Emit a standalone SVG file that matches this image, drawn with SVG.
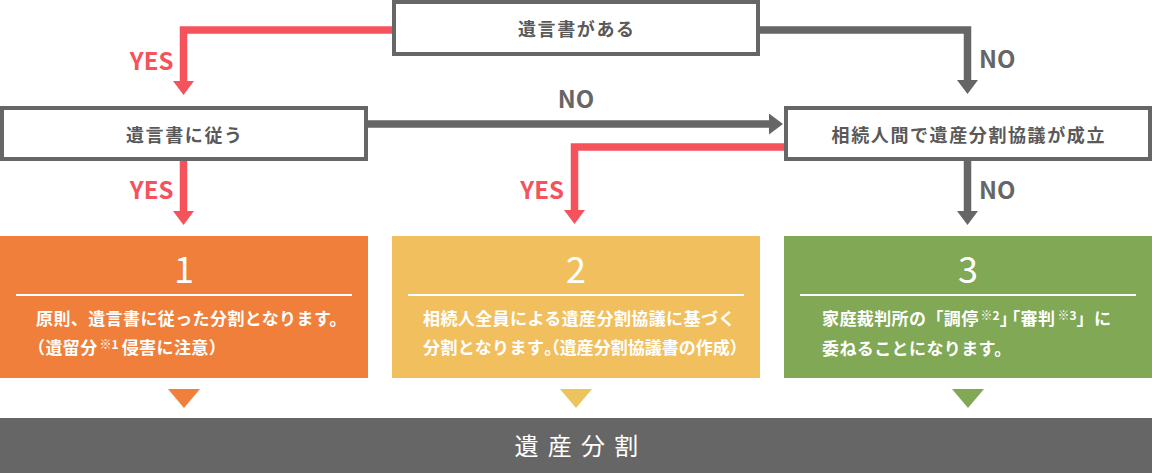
<svg xmlns="http://www.w3.org/2000/svg" width="1152" height="473" viewBox="0 0 1152 473">
<style>
  text { font-family: "Noto Sans CJK JP", "Noto Sans", sans-serif; }
  .node rect.frame { fill: #ffffff; stroke: #666666; stroke-width: 4; }
  .ntext { font-size: 18px; font-weight: 700; fill: #595959; letter-spacing: 1.6px; }
  .lbl { font-size: 24px; font-weight: 700; }
  .yes { fill: #F5525B; }
  .no { fill: #666666; }
  .red { fill: none; stroke: #F5525B; stroke-width: 7.5; stroke-linejoin: miter; }
  .gray { fill: none; stroke: #666666; stroke-width: 7.5; stroke-linejoin: miter; }
  .num { font-size: 36px; font-weight: 400; fill: #ffffff; }
  .rule { stroke: #ffffff; stroke-width: 2; }
  .body { font-size: 17px; font-weight: 700; fill: #ffffff; letter-spacing: 0.4px; }
  .sup { font-size: 12px; letter-spacing: 0; }
  .tight { letter-spacing: -5px; }
  .final { font-size: 24px; font-weight: 400; fill: #ffffff; letter-spacing: 9.3px; }
</style>
<defs>
  <marker id="ahRed" viewBox="0 0 14 21" refX="0" refY="10.5" markerWidth="14" markerHeight="21" markerUnits="userSpaceOnUse" orient="auto">
    <path d="M0,0 L14,10.5 L0,21 Z" fill="#F5525B"/>
  </marker>
  <marker id="ahGray" viewBox="0 0 14 21" refX="0" refY="10.5" markerWidth="14" markerHeight="21" markerUnits="userSpaceOnUse" orient="auto">
    <path d="M0,0 L14,10.5 L0,21 Z" fill="#666666"/>
  </marker>
</defs>

<g id="connectors">
  <path class="red" d="M392,30 H183.5 V81" marker-end="url(#ahRed)"/>
  <path class="gray" d="M760,30 H967.5 V80" marker-end="url(#ahGray)"/>
  <path class="gray" d="M368,124 H769" marker-end="url(#ahGray)"/>
  <path class="red" d="M784,147 H574.5 V210" marker-end="url(#ahRed)"/>
  <path class="red" d="M183.5,161 V211" marker-end="url(#ahRed)"/>
  <path class="gray" d="M967.5,161 V211" marker-end="url(#ahGray)"/>
  <text class="lbl yes" x="173.5" y="70" text-anchor="end">YES</text>
  <text class="lbl no" x="979" y="68">NO</text>
  <text class="lbl no" x="576" y="108" text-anchor="middle">NO</text>
  <text class="lbl yes" x="564" y="199" text-anchor="end">YES</text>
  <text class="lbl yes" x="173.5" y="199" text-anchor="end">YES</text>
  <text class="lbl no" x="979" y="199">NO</text>
</g>

<g id="node-will" class="node">
  <rect class="frame" x="394" y="2" width="364" height="52"/>
  <text class="ntext" x="576.8" y="35.5" text-anchor="middle">遺言書がある</text>
</g>

<g id="node-follow" class="node">
  <rect class="frame" x="2" y="108" width="364" height="51"/>
  <text class="ntext" x="184.8" y="141.5" text-anchor="middle">遺言書に従う</text>
</g>

<g id="node-agree" class="node">
  <rect class="frame" x="786" y="108" width="364" height="51"/>
  <text class="ntext" x="968.8" y="141.5" text-anchor="middle">相続人間で遺産分割協議が成立</text>
</g>

<g id="result-1">
  <rect x="0" y="236" width="368" height="142" fill="#EF7F3A"/>
  <text class="num" x="184" y="283" text-anchor="middle">1</text>
  <line class="rule" x1="16" y1="295" x2="352" y2="295"/>
  <text class="body" x="36" y="325">原則、遺言書に従った分割となります。</text>
  <text class="body" x="28" y="354">（遺留分<tspan class="sup" dx="2" dy="-5">※1</tspan><tspan dx="3" dy="5">侵害に注意）</tspan></text>
  <polygon points="168,389 200,389 184,408" fill="#EF7F3A"/>
</g>

<g id="result-2">
  <rect x="392" y="236" width="368" height="142" fill="#F2BF5F"/>
  <text class="num" x="576" y="283" text-anchor="middle">2</text>
  <line class="rule" x1="408" y1="295" x2="744" y2="295"/>
  <text class="body" x="423" y="325">相続人全員による遺産分割協議に基づく</text>
  <text class="body" x="423" y="354">分割となります<tspan style="letter-spacing:-10px">。</tspan><tspan style="letter-spacing:0">（遺産分割協議書の作成）</tspan></text>
  <polygon points="560,389 592,389 576,408" fill="#ECC35C"/>
</g>

<g id="result-3">
  <rect x="784" y="236" width="368" height="142" fill="#80A855"/>
  <text class="num" x="968" y="283" text-anchor="middle">3</text>
  <line class="rule" x1="800" y1="295" x2="1136" y2="295"/>
  <text class="body" x="822" y="325">家庭裁判所の「調停<tspan class="sup" dx="2" dy="-5">※2</tspan><tspan class="tight" dy="5">」</tspan>「審判<tspan class="sup" dx="2" dy="-5">※3</tspan><tspan dy="5">」に</tspan></text>
  <text class="body" x="822" y="355">委ねることになります。</text>
  <polygon points="952,389 984,389 968,408" fill="#80A855"/>
</g>

<g id="final">
  <rect x="0" y="418" width="1152" height="55" fill="#666666"/>
  <text class="final" x="581" y="455" text-anchor="middle">遺産分割</text>
</g>
</svg>
